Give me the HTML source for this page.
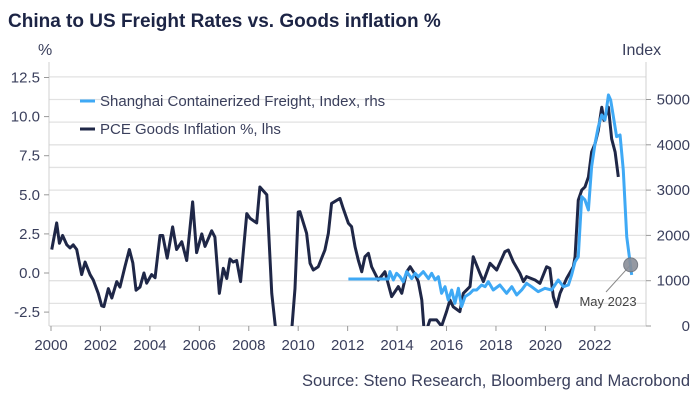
<!DOCTYPE html>
<html><head><meta charset="utf-8">
<style>
body{margin:0;background:#fff;width:700px;height:400px;overflow:hidden;font-family:"Liberation Sans",sans-serif;}
svg text{font-family:"Liberation Sans",sans-serif;}
</style></head>
<body>
<svg id="chart" width="700" height="400" viewBox="0 0 700 400">
<text x="8" y="27" font-size="19" font-weight="bold" fill="#1c2445">China to US Freight Rates vs. Goods inflation %</text>
<text x="38" y="55" font-size="16" fill="#3a3f5c">%</text>
<text x="622" y="55" font-size="16" fill="#3a3f5c">Index</text>
<text x="690" y="386" font-size="16.5" fill="#3a3f5c" text-anchor="end">Source: Steno Research, Bloomberg and Macrobond</text>
<g id="grid"></g><g id="axes"></g>
<defs><clipPath id="plotclip"><rect x="49" y="60" width="597" height="266"/></clipPath></defs>
<g id="series" clip-path="url(#plotclip)"></g>
<g>
<line x1="80" y1="101" x2="95" y2="101" stroke="#3fa9f5" stroke-width="3"/>
<text x="100" y="106" font-size="15" fill="#3a3f5c">Shanghai Containerized Freight, Index, rhs</text>
<line x1="80" y1="129" x2="95" y2="129" stroke="#1f2747" stroke-width="3"/>
<text x="100" y="134" font-size="15" fill="#3a3f5c">PCE Goods Inflation %, lhs</text>
</g>
<g id="annot"></g>
</svg>
<script>
const leftTicks=[12.5,10.0,7.5,5.0,2.5,0.0,-2.5];
const rightTicks=[5000,4000,3000,2000,1000,0];
const gridVals=[500,1000,1500,2000,2500,3000,3500,4000,4500,5000,5500];
const yearTicks=[2000,2002,2004,2006,2008,2010,2012,2014,2016,2018,2020,2022];
const pceDates=[2000.03,2000.23,2000.34,2000.47,2000.64,2000.77,2000.9,2001.04,2001.24,2001.38,2001.58,2001.71,2001.91,2002.05,2002.14,2002.32,2002.46,2002.66,2002.79,2002.99,2003.17,2003.31,2003.44,2003.6,2003.76,2003.87,2004.07,2004.21,2004.41,2004.52,2004.7,2004.92,2005.08,2005.29,2005.49,2005.73,2005.89,2006.1,2006.23,2006.5,2006.63,2006.81,2006.97,2007.11,2007.24,2007.37,2007.51,2007.67,2007.92,2008.05,2008.32,2008.45,2008.73,2008.93,2009.06,2009.19,2009.4,2009.74,2009.87,2010.0,2010.07,2010.34,2010.48,2010.61,2010.81,2011.08,2011.22,2011.35,2011.69,2011.82,2012.03,2012.16,2012.3,2012.43,2012.57,2012.7,2012.84,2012.97,2013.24,2013.51,2013.78,2014.05,2014.19,2014.39,2014.53,2014.73,2014.86,2015.0,2015.09,2015.2,2015.33,2015.6,2015.8,2016.0,2016.14,2016.27,2016.54,2016.68,2016.95,2017.08,2017.35,2017.49,2017.76,2018.03,2018.36,2018.5,2018.7,2018.97,2019.11,2019.24,2019.58,2019.78,2020.05,2020.18,2020.32,2020.45,2020.59,2020.86,2021.13,2021.2,2021.33,2021.47,2021.6,2021.74,2021.87,2022.01,2022.14,2022.28,2022.37,2022.55,2022.68,2022.82,2022.95];
const pceValues=[1.5,3.2,1.9,2.4,1.8,1.6,1.8,1.5,-0.1,0.7,-0.1,-0.45,-1.3,-2.1,-2.15,-1.0,-1.6,-0.55,-0.9,0.4,1.5,0.65,-1.1,-0.9,0,-0.65,-0.1,-0.3,2.4,2.4,0.95,2.95,1.5,2.0,0.8,4.55,1.3,2.5,1.7,2.7,2.3,-1.3,0.3,-0.35,0.9,0.7,0.8,-0.55,3.8,3.5,3.2,5.5,5.0,-1.3,-3.2,-5,-6,-3.6,-1,3.9,3.92,2.54,0.62,0.19,0.4,1.47,2.54,4.45,4.77,4.13,3.18,2.96,1.68,0.83,0.08,1.04,1.26,0.4,-0.45,0.08,-1.51,-0.87,-1.3,0.08,0.4,-0.1,-0.55,-1.73,-3.6,-3.6,-3.0,-3.0,-3.4,-2.47,-1.73,-2.16,-2.47,-1.3,-0.87,1.04,-0.02,-0.55,0.62,0.19,1.36,1.47,0.72,-0.02,-0.55,-0.23,-0.45,-0.66,0.4,0.3,-1.51,-2.16,-1.3,-0.34,0.4,1.04,4.66,5.3,5.5,6.14,7.74,8.27,9.12,10.6,9.76,10.6,8.58,7.74,6.14];
const frDates=[2012.03,2013.65,2013.71,2013.85,2013.98,2014.12,2014.25,2014.39,2014.59,2014.73,2014.86,2015.06,2015.27,2015.4,2015.54,2015.67,2015.8,2015.94,2016.07,2016.21,2016.34,2016.48,2016.61,2016.75,2016.95,2017.08,2017.22,2017.42,2017.56,2017.69,2017.89,2018.16,2018.43,2018.64,2018.84,2019.04,2019.24,2019.44,2019.71,2019.98,2020.25,2020.52,2020.73,2020.93,2021.06,2021.2,2021.33,2021.47,2021.6,2021.74,2021.87,2022.01,2022.14,2022.28,2022.41,2022.55,2022.64,2022.75,2022.88,2023.02,2023.15,2023.29,2023.43,2023.49];
const frValues=[1038,1038,1200,1016,1163,1089,978,1200,1045,1163,1089,1200,1045,1163,1016,1089,721,868,574,795,500,832,427,648,721,795,795,905,868,978,795,905,721,868,685,795,942,868,758,832,795,1016,868,905,1126,1421,1531,2855,2782,2561,3518,4033,4401,4659,4549,5101,4990,4622,4180,4217,3445,1972,1384,1126];

const X0=51,PX=24.72,L0=273,LPX=15.64,R0=326,RPX=0.0453;
const xs=yr=>X0+(yr-2000)*PX;
const yl=v=>L0-v*LPX;
const yr=v=>R0-v*RPX;
const NS='http://www.w3.org/2000/svg';
function mk(tag,attrs,parent){const e=document.createElementNS(NS,tag);for(const k in attrs)e.setAttribute(k,attrs[k]);parent.appendChild(e);return e;}
const grid=document.getElementById('grid'),axes=document.getElementById('axes'),series=document.getElementById('series'),annot=document.getElementById('annot');
gridVals.forEach(v=>{const l=mk('line',{x1:49,x2:646,y1:yr(v),y2:yr(v),stroke:'#e2e2e2','stroke-width':1.3},grid);

});
let a=mk('line',{x1:49,x2:49,y1:62,y2:326,stroke:'#d0d0d0'},axes);


a=mk('line',{x1:646,x2:646,y1:62,y2:326,stroke:'#d0d0d0'},axes);


a=mk('line',{x1:49,x2:646,y1:326,y2:326,stroke:'#d0d0d0'},axes);


leftTicks.forEach(v=>{mk('line',{x1:44,x2:49,y1:yl(v),y2:yl(v),stroke:'#999'},axes);
const t=mk('text',{x:40,y:yl(v)+5,'font-size':15,fill:'#3a3f5c','text-anchor':'end'},axes);t.textContent=v.toFixed(1);

});
rightTicks.forEach(v=>{mk('line',{x1:646,x2:651,y1:yr(v),y2:yr(v),stroke:'#999'},axes);
const t=mk('text',{x:690,y:yr(v)+5,'font-size':15,fill:'#3a3f5c','text-anchor':'end'},axes);t.textContent=v;

});
yearTicks.forEach(y=>{mk('line',{x1:xs(y),x2:xs(y),y1:326,y2:331,stroke:'#999'},axes);
const t=mk('text',{x:xs(y),y:350,'font-size':15,fill:'#3a3f5c','text-anchor':'middle'},axes);t.textContent=y;

});
let p=mk('polyline',{points:pceDates.map((d,i)=>xs(d)+','+yl(pceValues[i])).join(' '),fill:'none',stroke:'#1f2747','stroke-width':3,'stroke-linejoin':'round'},series);


p=mk('polyline',{points:frDates.map((d,i)=>xs(d)+','+yr(frValues[i])).join(' '),fill:'none',stroke:'#3fa9f5','stroke-width':3,'stroke-linejoin':'round'},series);


const lx=xs(frDates[frDates.length-1])-1, ly=yr(1350);
let c=mk('line',{x1:lx,y1:ly,x2:606,y2:292,stroke:'#888','stroke-width':1},annot);


c=mk('circle',{cx:lx,cy:ly,r:7,fill:'#8a8f99',stroke:'#6a6f79','stroke-width':1,opacity:0.9},annot);


c=mk('text',{x:608,y:306,'font-size':13,fill:'#444','text-anchor':'middle'},annot);c.textContent='May 2023';


</script>
</body></html>
